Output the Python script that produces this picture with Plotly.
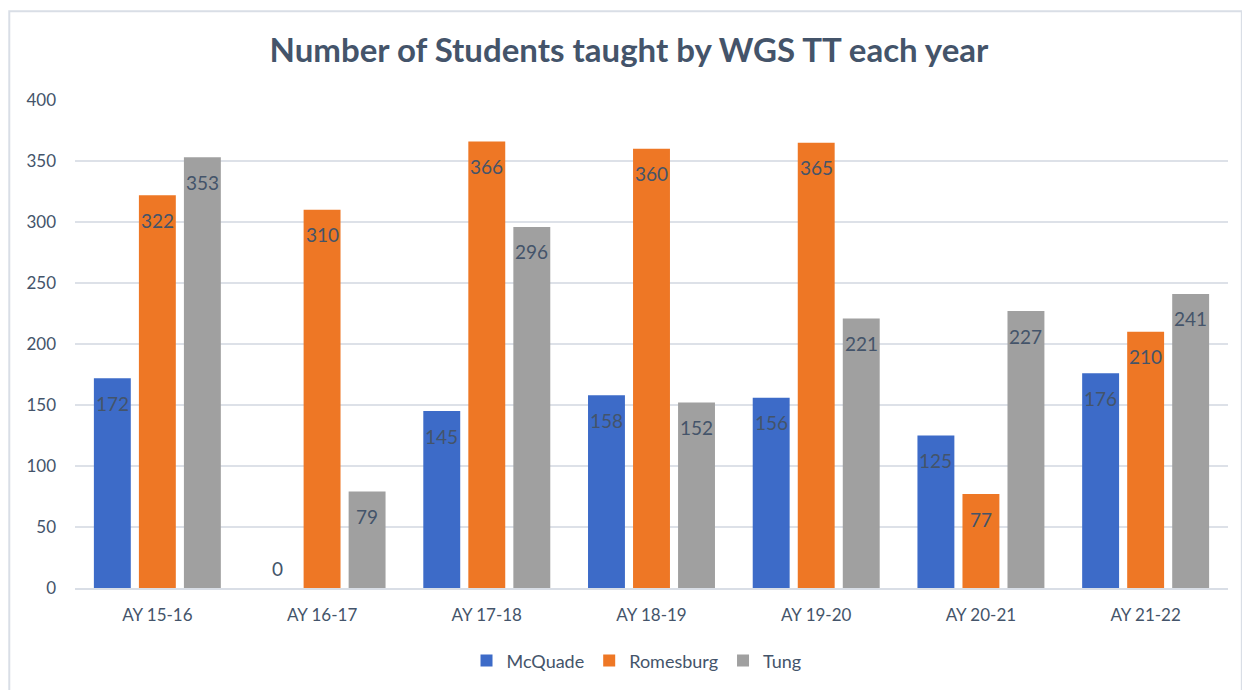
import plotly.graph_objects as go

categories = ["AY 15-16", "AY 16-17", "AY 17-18", "AY 18-19", "AY 19-20", "AY 20-21", "AY 21-22"]
mcquade = [172, 0, 145, 158, 156, 125, 176]
romesburg = [322, 310, 366, 360, 365, 77, 210]
tung = [353, 79, 296, 152, 221, 227, 241]

series_names = ["McQuade", "Romesburg", "Tung"]
series_values = [mcquade, romesburg, tung]
series_colors = ["#3D6BC8", "#EE7725", "#A0A0A0"]

FONT = "Lato"
TXT = "#44546A"

# plot-area geometry (px) used to derive the grouped-bar offset for labels
PLOT_W = 1153
BARGAP = 0.18
slot_px = PLOT_W / len(categories) * (1 - BARGAP) / len(series_names)

fig = go.Figure()
annotations = []
for i, (name, vals, col) in enumerate(zip(series_names, series_values, series_colors)):
    fig.add_trace(go.Bar(
        x=categories, y=vals, name=name,
        marker=dict(color=col, line=dict(width=0)),
    ))
    xshift = (i - (len(series_names) - 1) / 2) * slot_px
    for cat, v in zip(categories, vals):
        annotations.append(dict(
            x=cat, y=v, xref="x", yref="y", text=str(v), showarrow=False,
            xanchor="center", yanchor="middle", xshift=xshift,
            yshift=20 if v == 0 else -25,
            font=dict(family=FONT, size=19, color=TXT),
        ))

fig.update_layout(
    width=1242, height=682,
    paper_bgcolor="white", plot_bgcolor="white",
    barmode="group", bargap=BARGAP, bargroupgap=0.18,
    margin=dict(l=67, r=22, t=92, b=101),
    title=dict(text="<b>Number of Students taught by WGS TT each year</b>",
               x=0.5, xanchor="center", y=0.938, yanchor="middle",
               font=dict(family=FONT, size=33, color=TXT)),
    font=dict(family=FONT, color=TXT),
    xaxis=dict(showgrid=False, showline=True, linecolor="#D9DEE6", linewidth=2,
               tickfont=dict(family=FONT, size=17, color=TXT), ticks="", ticklabelstandoff=11),
    yaxis=dict(range=[0, 400], dtick=50, showgrid=True, gridcolor="#DDE1E8", gridwidth=1.5,
               zeroline=False, showline=False, ticks="",
               tickfont=dict(family=FONT, size=17, color=TXT), ticklabelstandoff=18),
    legend=dict(orientation="h", x=0.487, xanchor="center", y=-0.147, yanchor="middle",
                font=dict(family=FONT, size=18, color=TXT), traceorder="normal"),
    annotations=annotations,
    shapes=[dict(type="rect", xref="paper", yref="paper",
                 x0=-0.057, x1=1.012, y0=-0.25, y1=1.182,
                 line=dict(color="#D9DEE6", width=2), fillcolor="rgba(0,0,0,0)", layer="below")],
)

fig.write_html("out.html")
